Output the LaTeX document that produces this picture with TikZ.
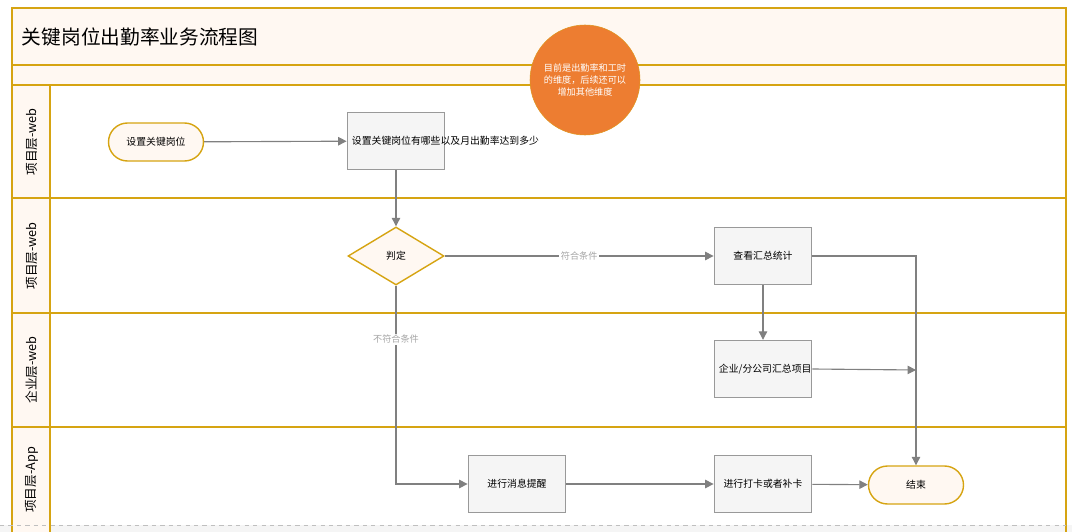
\documentclass[tikz,border=0pt]{standalone}
\usepackage{fontspec}
\setmainfont{Noto Sans CJK SC}
\usetikzlibrary{shapes.geometric,arrows.meta}
\definecolor{lanegold}{HTML}{D6A412}
\definecolor{lanefill}{HTML}{FFF8F2}
\definecolor{boxgray}{HTML}{999999}
\definecolor{noteorange}{HTML}{ED7D31}
\tikzset{
  lane/.style={draw=lanegold, line width=1.2pt},
  task/.style={draw=boxgray, fill=gray!8, line width=1pt, minimum width=95*0.025cm, minimum height=57*0.025cm, align=center, font=\fontsize{7}{9}\selectfont, text width=2.2cm},
  term/.style={draw=lanegold, fill=lanefill, line width=1pt, rounded corners=19*0.025cm, minimum width=95*0.025cm, minimum height=38*0.025cm, font=\fontsize{7}{9}\selectfont},
  check/.style={diamond, aspect=1.65, draw=lanegold, fill=lanefill, line width=1pt, minimum width=96*0.025cm, minimum height=58*0.025cm, inner sep=0pt, font=\fontsize{7}{9}\selectfont},
  flow/.style={draw=gray, line width=0.8pt, -{Triangle[length=6pt,width=6pt]}},
  cond/.style={fill=white, text=gray!70, font=\fontsize{6.5}{8}\selectfont, inner sep=1pt},
  lanelabel/.style={rotate=90, font=\fontsize{9}{11}\selectfont}
}
\begin{document}
\begin{tikzpicture}[x=0.025cm, y=-0.025cm]
  \useasboundingbox (0,0) rectangle (1072,532);

  % pool frame
  \fill[gray!8] (0,525) rectangle (1072,532);
  \fill[lanefill] (12,8) rectangle (1066,85);
  \fill[lanefill] (12,85) rectangle (50,532);
  \draw[lane] (12,532) -- (12,8) -- (1066,8) -- (1066,532);
  \draw[lane] (12,65) -- (1066,65);
  \draw[lane] (12,85) -- (1066,85);
  \draw[lane] (12,198) -- (1066,198);
  \draw[lane] (12,313) -- (1066,313);
  \draw[lane] (12,427) -- (1066,427);
  \draw[lane] (50,85) -- (50,532);
  \draw[gray!50, dashed] (0,525) -- (1066,525);

  % title and lane labels
  \node[anchor=west, font=\fontsize{14}{16}\selectfont] (title) at (17,37) {关键岗位出勤率业务流程图};
  \node[lanelabel] (lane1) at (32,142) {项目层-web};
  \node[lanelabel] (lane2) at (32,256) {项目层-web};
  \node[lanelabel] (lane3) at (32,370) {企业层-web};
  \node[lanelabel] (lane4) at (32,480) {项目层-App};

  % note
  \node[circle, fill=noteorange, draw=lanegold!60!noteorange, minimum size=110*0.025cm, text=white, align=center, font=\fontsize{6.5}{8.5}\selectfont] (note) at (585,80) {目前是出勤率和工时\\的维度，后续还可以\\增加其他维度};

  % tasks
  \node[term] (start) at (156,142) {设置关键岗位};
  \node[task] (setup) at (396,141) {设置关键岗位有哪些以及月出勤率达到多少};
  \node[check] (judge) at (396,256) {判定};
  \node[task] (stats) at (763,256) {查看汇总统计};
  \node[task] (corp) at (763,369) {企业/分公司汇总项目};
  \node[task] (remind) at (517,484) {进行消息提醒};
  \node[task] (punch) at (763,484) {进行打卡或者补卡};
  \node[term] (finish) at (916,485) {结束};
  \coordinate (merge) at (916,370);

  % connectors
  \draw[flow] (start) -- (setup);
  \draw[flow] (setup) -- (judge);
  \draw[flow] (judge) -- node[cond, pos=0.5] {符合条件} (stats);
  \draw[flow] (judge.south) -- node[cond, pos=0.27] {不符合条件} (judge.south |- remind) -- (remind);
  \draw[flow] (remind) -- (punch);
  \draw[flow] (punch) -- (finish);
  \draw[flow] (stats.east) -| (finish.north);
  \draw[flow] (stats.south) -- (corp.north);
  \draw[flow] (corp.east) -- (merge);

\end{tikzpicture}
\end{document}
